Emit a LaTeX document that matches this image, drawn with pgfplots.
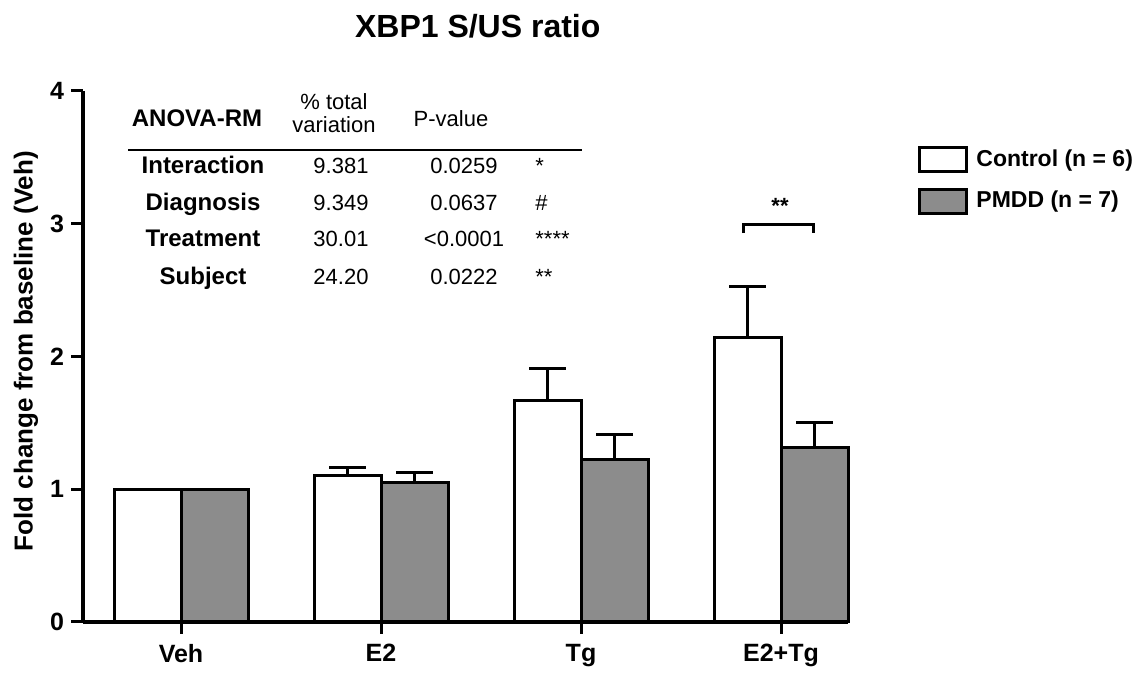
\documentclass[border=0pt]{standalone}
\usepackage{fontspec}
\setmainfont{Liberation Sans}
\usepackage{pgfplots}
\usepackage{pgfplotstable}
\pgfplotsset{compat=1.18}

\pgfplotstableread{
x  y      err
0  1.000  0
1  1.107  0.058
2  1.672  0.238
3  2.145  0.386
}\controldata
\pgfplotstableread{
x  y      err
0  1.000  0
1  1.050  0.075
2  1.225  0.190
3  1.316  0.184
}\pmdddata

\begin{document}
\begin{tikzpicture}
\begin{axis}[
  scale only axis,
  width=382.5pt, height=265.5pt,
  xmin=-0.49, xmax=3.335,
  ymin=0, ymax=4,
  axis x line=bottom, axis y line=left,
  axis line style={-, line width=1.6pt},
  xtick={0,1,2,3},
  xticklabels={Veh,E2,Tg,E2+Tg},
  ytick={0,1,2,3,4},
  tick align=outside,
  major tick length=6pt,
  tick style={line width=1.5pt, black},
  ticklabel style={font=\bfseries\fontsize{12.5}{14}\selectfont},
  xticklabel style={yshift=-1.5pt},
  /pgf/number format/assume math mode=true,
  ylabel={Fold change from baseline (Veh)},
  ylabel style={font=\bfseries\fontsize{13}{15}\selectfont, at={(axis description cs:-0.0745,0.51)}, anchor=center},
  ybar=0pt,
  bar width=0.335,
  clip=false,
  legend style={at={(1.0915,0.898)}, anchor=north west, draw=none, fill=none,
    inner sep=0pt, font=\bfseries\fontsize{11.5}{13}\selectfont,
    row sep=7pt, column sep=2pt, legend cell align=left},
]
\addplot[ybar, bar shift=-0.1675, draw=black, line width=1.5pt, fill=white,
  legend image code/.code={\draw[draw=black, line width=1.5pt, fill=white] (0pt,-6pt) rectangle (23.5pt,6pt);},
  error bars/.cd, y dir=plus, y explicit,
  error bar style={line width=1.5pt, black},
  error mark options={rotate=90, line width=1.5pt, mark size=9.25pt, black}]
  table[x=x, y=y, y error=err] {\controldata};
\addlegendentry{Control (n = 6)}
\addplot[ybar, bar shift=0.1675, draw=black, line width=1.5pt, fill=black!45,
  legend image code/.code={\draw[draw=black, line width=1.5pt, fill=black!45] (0pt,-6pt) rectangle (23.5pt,6pt);},
  error bars/.cd, y dir=plus, y explicit,
  error bar style={line width=1.5pt, black},
  error mark options={rotate=90, line width=1.5pt, mark size=9.25pt, black}]
  table[x=x, y=y, y error=err] {\pmdddata};
\addlegendentry{PMDD (n = 7)}

% significance bracket
\draw[line width=1.5pt] (axis cs:2.81,2.93) -- (axis cs:2.81,2.998) -- (axis cs:3.16,2.998) -- (axis cs:3.16,2.93);
\node[anchor=base, font=\bfseries\fontsize{11}{13}\selectfont] at (axis cs:2.995,3.08) {**};

% ANOVA table
\begin{scope}[every node/.style={anchor=base, font=\fontsize{11}{13}\selectfont, inner sep=0pt}]
\node[font=\bfseries\fontsize{12}{14}\selectfont] at (axis cs:0.08,3.729) {ANOVA-RM};
\node at (axis cs:0.765,3.864) {\% total};
\node at (axis cs:0.765,3.684) {variation};
\node at (axis cs:1.35,3.729) {P-value};
\draw[line width=1pt] (axis cs:-0.265,3.556) -- (axis cs:2.005,3.556);
\node[font=\bfseries\fontsize{12}{14}\selectfont] at (axis cs:0.11,3.375) {Interaction};
\node[font=\bfseries\fontsize{12}{14}\selectfont] at (axis cs:0.11,3.096) {Diagnosis};
\node[font=\bfseries\fontsize{12}{14}\selectfont] at (axis cs:0.11,2.825) {Treatment};
\node[font=\bfseries\fontsize{12}{14}\selectfont] at (axis cs:0.11,2.546) {Subject};
\node at (axis cs:0.80,3.375) {9.381};
\node at (axis cs:0.80,3.096) {9.349};
\node at (axis cs:0.80,2.825) {30.01};
\node at (axis cs:0.80,2.546) {24.20};
\node at (axis cs:1.415,3.375) {0.0259};
\node at (axis cs:1.415,3.096) {0.0637};
\node at (axis cs:1.415,2.825) {<0.0001};
\node at (axis cs:1.415,2.546) {0.0222};
\node[anchor=base west] at (axis cs:1.77,3.375) {*};
\node[anchor=base west] at (axis cs:1.77,3.096) {\#};
\node[anchor=base west] at (axis cs:1.77,2.825) {****};
\node[anchor=base west] at (axis cs:1.77,2.546) {**};
\end{scope}

% title
\node[anchor=base, font=\bfseries\fontsize{16}{19}\selectfont] at (rel axis cs:0.516,1.101) {XBP1 S/US ratio};

\coordinate (BL) at (rel axis cs:-0.10850,-0.09605);
\coordinate (TR) at (rel axis cs:1.37908,1.17137);
\end{axis}
\pgfresetboundingbox
\useasboundingbox (BL) rectangle (TR);
\end{tikzpicture}
\end{document}
